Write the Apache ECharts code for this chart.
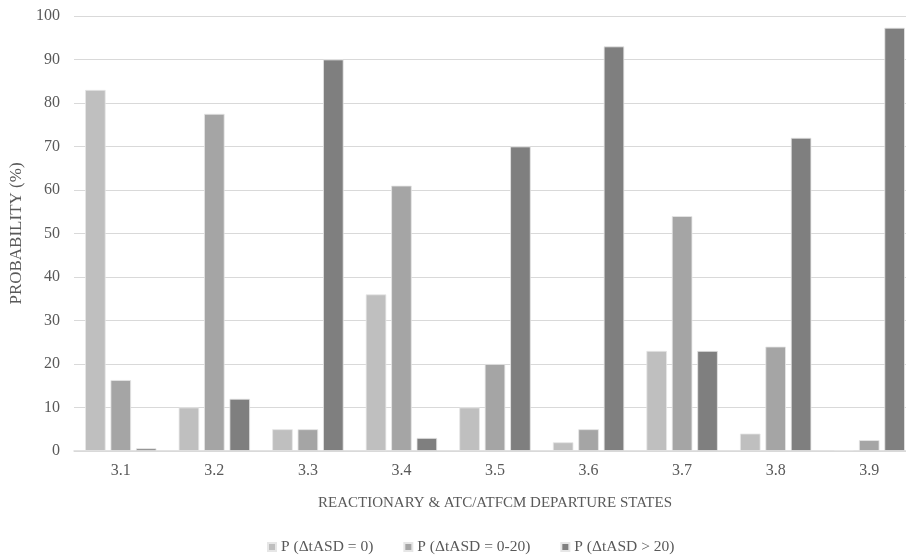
<!DOCTYPE html>
<html>
<head>
<meta charset="utf-8">
<script src="https://cdn.jsdelivr.net/npm/echarts@6/dist/echarts.min.js"></script>
<style>
  html, body { margin: 0; padding: 0; background: #ffffff; overflow: hidden; }
  #wrap { width: 906px; height: 558px; overflow: hidden; }
  /* plot area runs slightly past the right edge of the frame */
  #chart { width: 916px; height: 558px; }
</style>
</head>
<body>
<div id="wrap"><div id="chart"></div></div>
<script>
// Departure states on the x axis
const states = ['3.1', '3.2', '3.3', '3.4', '3.5', '3.6', '3.7', '3.8', '3.9'];

// Probability (%) of each delay band per state
const pZero = [83, 10, 5, 36, 10, 2, 23, 4, 0.2];
const pZeroToTwenty = [16.3, 77.5, 5, 61, 20, 5, 54, 24, 2.5];
const pOverTwenty = [0.6, 12, 90, 3, 70, 93, 23, 72, 97.3];

const seriesNames = ['P (\u0394tASD = 0)', 'P (\u0394tASD = 0-20)', 'P (\u0394tASD > 20)'];
const yTicks = { min: 0, max: 100, interval: 10 };

const textColor = '#595959';
const fontFamily = '"Liberation Serif", "Times New Roman", serif';

const chart = echarts.init(document.getElementById('chart'));

function barSeries(name, data, color) {
  return {
    name: name,
    type: 'bar',
    data: data,
    barWidth: 20.5,
    barGap: '24%',
    itemStyle: { color: color, borderColor: '#e6e6e6', borderWidth: 0.8 }
  };
}

chart.setOption({
  animation: false,
  backgroundColor: '#ffffff',
  textStyle: { fontFamily: fontFamily, color: textColor },
  grid: { left: 74, top: 16, right: 0, height: 435, containLabel: false },
  legend: {
    top: 534,
    left: 262,
    itemWidth: 8,
    itemHeight: 8,
    itemGap: 30,
    icon: 'rect',
    textStyle: { fontFamily: fontFamily, fontSize: 15.5, color: textColor },
    data: seriesNames
  },
  xAxis: {
    type: 'category',
    data: states,
    name: 'REACTIONARY & ATC/ATFCM DEPARTURE STATES',
    nameLocation: 'middle',
    nameGap: 45,
    nameTextStyle: { fontFamily: fontFamily, fontSize: 15, color: textColor },
    axisLine: { lineStyle: { color: '#d9d9d9', width: 1.5 } },
    axisTick: { show: false },
    axisLabel: { fontFamily: fontFamily, fontSize: 16, color: textColor, margin: 12 }
  },
  yAxis: {
    type: 'value',
    min: yTicks.min,
    max: yTicks.max,
    interval: yTicks.interval,
    name: 'PROBABILITY (%)',
    nameLocation: 'middle',
    nameGap: 46,
    nameRotate: 90,
    nameTextStyle: { fontFamily: fontFamily, fontSize: 17, color: textColor },
    axisLine: { show: false },
    axisTick: { show: false },
    splitLine: { lineStyle: { color: '#d9d9d9', width: 1 } },
    axisLabel: { fontFamily: fontFamily, fontSize: 16, color: textColor, margin: 14 }
  },
  series: [
    barSeries(seriesNames[0], pZero, '#bfbfbf'),
    barSeries(seriesNames[1], pZeroToTwenty, '#a5a5a5'),
    barSeries(seriesNames[2], pOverTwenty, '#7f7f7f')
  ]
});
</script>
</body>
</html>
